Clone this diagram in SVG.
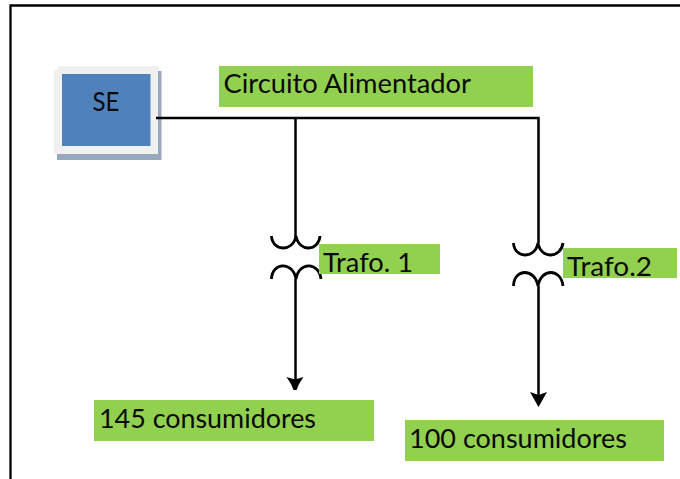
<svg xmlns="http://www.w3.org/2000/svg" width="680" height="479" viewBox="0 0 680 479">
<style>
text{font-family:"Lato","Carlito","Liberation Sans",sans-serif;font-size:27.500px;fill:#0a0a0a}
.g{fill:#92d050}
.w{fill:none;stroke:#000;stroke-width:2.500}
.c{fill:none;stroke:#000;stroke-width:2.800}
</style>
<defs>
<path id="head" d="M-8.500-13L0-10.500L8.500-13L4-6L1.500 0H-1.500L-4-6Z" fill="#000"/>
<path id="head2" d="M-8.500-15L0-12L8.500-15L4-7L0 0L-4-7Z" fill="#000"/>
</defs>
<rect width="680" height="479" fill="#fff"/>
<path d="M10.500 479V5.500H680" fill="none" stroke="#000" stroke-width="2.300"/>
<g id="SE">
<path d="M57 71H161.500V160H57Z" fill="#9aa8bd"/>
<path d="M58 66H159V71H158V154H54V70H58Z" fill="#f0f0f0"/>
<rect x="62" y="74" width="88.500" height="72" fill="#4f81bd"/>
<text x="92.500" y="110.500" textLength="27" lengthAdjust="spacingAndGlyphs">SE</text>
</g>
<g id="connectors">
<path class="w" d="M156 118H538.500V243M295.500 118V237"/>
<path class="c" d="M271.500 236C272 251 293 253 296 236C299 253 319 251 320 236"/>
<path class="c" d="M271.500 279C272 262 293 261 296 279C299 261 319 262 321 279"/>
<path class="w" d="M295.500 279V380"/>
<use href="#head" x="295" y="390"/>
<path class="c" d="M513.500 243C514 258 535 260 538 243C541 260 561 258 563 243"/>
<path class="c" d="M513.500 286C514 268 535 268 538 286C541 268 561 268 563 286"/>
<path class="w" d="M538.500 286V396"/>
<use href="#head2" x="538.500" y="407"/>
</g>
<g id="circuito"><rect class="g" x="219" y="66" width="314" height="41"/><text x="223.500" y="93" textLength="247.500" lengthAdjust="spacingAndGlyphs">Circuito Alimentador</text></g>
<g id="trafo1"><rect class="g" x="319" y="244" width="121" height="30"/><text x="323" y="271.500" textLength="90" lengthAdjust="spacingAndGlyphs">Trafo. 1</text></g>
<g id="trafo2"><rect class="g" x="563" y="248" width="114" height="30"/><text x="567" y="276" textLength="85" lengthAdjust="spacingAndGlyphs">Trafo.2</text></g>
<g id="c145"><rect class="g" x="94" y="400" width="280" height="41"/><text x="99" y="428" textLength="217" lengthAdjust="spacingAndGlyphs">145 consumidores</text></g>
<g id="c100"><rect class="g" x="405" y="420" width="259" height="41"/><text x="409" y="448" textLength="218" lengthAdjust="spacingAndGlyphs">100 consumidores</text></g>
</svg>
